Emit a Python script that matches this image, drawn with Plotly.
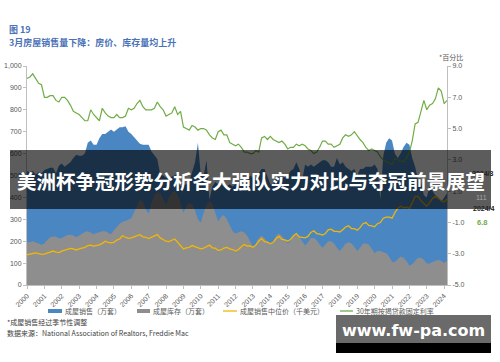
import plotly.graph_objects as go
import pandas as pd

# ---------------- data (bi-monthly: Jan, Mar, May, Jul, Sep, Nov) ----------------
dates = pd.date_range("2000-01-01", "2024-03-01", freq="2MS")

sales = [  # 成屋销售（万套）
    520, 515, 520, 505, 515, 510,
    525, 530, 535, 535, 510, 545,
    555, 540, 550, 560, 580, 595,
    590, 590, 600, 650, 660, 640,
    640, 670, 690, 690, 700, 710,
    700, 710, 720, 720, 725, 700,
    690, 675, 660, 645, 640, 640,
    640, 610, 595, 575, 505, 500,
    490, 490, 495, 500, 510, 450,
    455, 460, 470, 520, 560, 650,
    500, 500, 570, 390, 450, 470,
    460, 460, 450, 450, 460, 450,
    460, 460, 460, 450, 470, 500,
    490, 490, 510, 530, 530, 490,
    460, 460, 490, 510, 510, 490,
    500, 520, 530, 560, 530, 480,
    550, 540, 550, 540, 550, 560,
    570, 570, 560, 540, 540, 580,
    550, 560, 540, 530, 520, 530,
    500, 530, 530, 540, 540, 540,
    550, 530, 390, 590, 650, 670,
    660, 600, 580, 600, 630, 650,
    640, 580, 540, 480, 470, 410,
    400, 450, 430, 410, 400, 380,
    400, 419,
]

inventory = [  # 成屋库存（万套）
    197, 195, 200, 196, 190, 184,
    190, 205, 218, 222, 220, 212,
    215, 222, 228, 230, 226, 218,
    225, 235, 242, 245, 240, 232,
    238, 242, 246, 245, 240, 232,
    250, 265, 280, 288, 292, 298,
    305, 335, 365, 390, 380, 345,
    325, 375, 410, 425, 420, 390,
    365, 400, 420, 430, 410, 375,
    330, 360, 375, 370, 340, 300,
    285, 330, 365, 385, 370, 330,
    290, 310, 320, 300, 270, 245,
    235, 240, 245, 240, 225, 200,
    175, 190, 215, 225, 215, 195,
    185, 200, 225, 235, 225, 205,
    190, 200, 225, 230, 220, 200,
    180, 195, 215, 215, 205, 185,
    170, 185, 200, 200, 190, 170,
    155, 170, 190, 195, 190, 175,
    155, 170, 190, 190, 185, 165,
    145, 155, 155, 150, 145, 130,
    105, 105, 120, 130, 125, 110,
    88, 95, 110, 125, 125, 115,
    98, 98, 105, 110, 115, 110,
    101, 111,
]

price = [  # 成屋销售中位价（千美元）
    138, 140, 145, 147, 143, 140,
    141, 145, 150, 155, 150, 148,
    155, 158, 162, 167, 165, 160,
    165, 168, 172, 180, 182, 178,
    180, 183, 190, 200, 195, 192,
    195, 205, 210, 225, 218, 213,
    215, 220, 225, 230, 220, 218,
    212, 218, 225, 230, 215, 208,
    200, 198, 205, 210, 195, 180,
    165, 170, 172, 180, 175, 170,
    165, 168, 175, 182, 170, 168,
    158, 160, 168, 172, 165, 162,
    155, 162, 175, 185, 178, 178,
    172, 182, 200, 212, 198, 196,
    188, 195, 212, 222, 208, 206,
    200, 208, 225, 235, 220, 218,
    215, 222, 240, 248, 235, 232,
    228, 235, 252, 255, 245, 245,
    242, 252, 265, 270, 258, 257,
    250, 262, 280, 285, 272, 270,
    266, 280, 285, 305, 310, 310,
    305, 330, 350, 360, 352, 355,
    350, 375, 405, 405, 385, 372,
    360, 375, 395, 405, 395, 385,
    380, 393,
]

rate = [  # 30年期按揭贷款固定利率（%）
    8.2, 8.3, 8.5, 8.2, 7.9, 7.8,
    7.0, 7.0, 7.1, 7.1, 6.8, 6.7,
    7.0, 7.0, 6.8, 6.5, 6.1, 6.0,
    5.9, 5.7, 5.5, 5.5, 6.2, 5.9,
    5.7, 5.5, 6.3, 6.0, 5.8, 5.7,
    5.7, 5.9, 5.7, 5.7, 5.8, 6.3,
    6.2, 6.3, 6.6, 6.8, 6.4, 6.2,
    6.2, 6.2, 6.3, 6.7, 6.4, 6.2,
    5.8, 5.9, 6.0, 6.4, 5.9, 6.1,
    5.1, 5.0, 4.9, 5.2, 5.1, 4.9,
    5.0, 5.0, 4.9, 4.6, 4.4, 4.3,
    4.8, 4.9, 4.6, 4.6, 4.1, 4.0,
    3.9, 4.0, 3.8, 3.5, 3.5, 3.4,
    3.4, 3.6, 3.5, 4.4, 4.5, 4.3,
    4.5, 4.3, 4.2, 4.1, 4.2, 4.0,
    3.7, 3.8, 3.8, 4.0, 3.9, 4.0,
    3.9, 3.7, 3.6, 3.4, 3.5, 3.8,
    4.2, 4.2, 4.0, 4.0, 3.8, 3.9,
    4.0, 4.4, 4.6, 4.5, 4.6, 4.8,
    4.5, 4.3, 4.1, 3.8, 3.6, 3.7,
    3.6, 3.5, 3.2, 3.0, 2.9, 2.8,
    2.7, 3.1, 3.0, 2.9, 2.9, 3.1,
    3.5, 4.2, 5.3, 5.4, 6.1, 6.8,
    6.2, 6.5, 6.6, 6.9, 7.6, 7.4,
    6.6, 6.8,
]

years = list(range(2000, 2025))
year_labels = [str(y) for y in years]
left_ticks = list(range(0, 1001, 100))
left_labels = [f"{v:,}" for v in left_ticks]
right_ticks = [-5, -3, -1, 1, 3, 5, 7, 9]
right_labels = [f"{v:.1f}" for v in right_ticks]

series_names = ["成屋销售（万套）", "成屋库存（万套）", "成屋销售中位价（千美元）", "30年期按揭贷款固定利率"]
colors = ["#4A86C2", "#8E8E8E", "#F2B705", "#70AD47"]

# ---------------- geometry helpers (pixel -> paper) ----------------
W, H = 500, 362
L, R, T, B = 27, 447, 66, 285


def px(x):
    return (x - L) / (R - L)


def py(y):
    return (B - y) / (B - T)


CJK = "Noto Sans CJK SC"
AX = "#595959"

fig = go.Figure()
fig.add_trace(go.Scatter(x=dates, y=sales, mode="lines", fill="tozeroy",
                         fillcolor=colors[0], line=dict(width=0, color=colors[0]),
                         name=series_names[0], showlegend=False, hoverinfo="skip"))
fig.add_trace(go.Scatter(x=dates, y=inventory, mode="lines", fill="tozeroy",
                         fillcolor=colors[1], line=dict(width=0, color=colors[1]),
                         name=series_names[1], showlegend=False, hoverinfo="skip"))
fig.add_trace(go.Scatter(x=dates, y=price, mode="lines",
                         line=dict(width=1.3, color=colors[2]),
                         name=series_names[2], showlegend=False, hoverinfo="skip"))
fig.add_trace(go.Scatter(x=dates, y=rate, mode="lines", yaxis="y2",
                         line=dict(width=1.2, color=colors[3]),
                         name=series_names[3], showlegend=False, hoverinfo="skip"))

axis_common = dict(showgrid=False, zeroline=False, showline=True, linecolor="#BFBFBF",
                   linewidth=1, ticks="outside", ticklen=3, tickcolor="#BFBFBF",
                   automargin=False)

fig.update_layout(
    template="none",
    width=W, height=H,
    margin=dict(l=L, r=W - R, t=T, b=H - B, pad=0, autoexpand=False),
    paper_bgcolor="white", plot_bgcolor="white",
    font=dict(family=CJK, color=AX),
    showlegend=False,
    xaxis=dict(type="date", range=[dates[0], dates[-1]],
               tickvals=[f"{y}-01-01" for y in years], ticktext=year_labels,
               tickangle=-45, tickfont=dict(size=7, color=AX, family="Liberation Sans"),
               **axis_common),
    yaxis=dict(range=[0, 1000], tickvals=left_ticks, ticktext=left_labels,
               tickfont=dict(size=7, color=AX, family="Liberation Sans"), **axis_common),
    yaxis2=dict(range=[-5, 9], tickvals=right_ticks, ticktext=right_labels,
                overlaying="y", side="right",
                tickfont=dict(size=7, color=AX, family="Liberation Sans"), **axis_common),
)

ann = []
shapes = []


def text(x, y, s, size=7, color=AX, anchor="left", bold=False, family=CJK):
    ann.append(dict(x=px(x), y=py(y), xref="paper", yref="paper", text=f"<b>{s}</b>" if bold else s,
                    showarrow=False, xanchor=anchor, yanchor="middle",
                    font=dict(size=size, color=color, family=family)))


# titles
text(7, 29, "图 19", size=9, color="#4A72B8", bold=True)
text(7, 42, "3月房屋销售量下降：房价、库存量均上升", size=9, color="#4A72B8", bold=True)

# right axis unit + latest values
text(451, 57, "*百分比", size=7, color=AX, anchor="center")
text(470, 173, "2024/3", size=7, color="#222222", bold=True, family="Liberation Sans")
text(482, 197, "111", size=7, color="#A6A6A6", anchor="center", family="Liberation Sans")
text(471, 208, "2024/4", size=7, color="#222222", bold=True, family="Liberation Sans")
text(482, 222, "6.8", size=7.5, color=colors[3], anchor="center", bold=True, family="Liberation Sans")

# legend (manual)
leg_y = 311
shapes.append(dict(type="rect", xref="paper", yref="paper", x0=px(48), x1=px(62),
                   y0=py(leg_y + 2), y1=py(leg_y - 2), fillcolor=colors[0], line=dict(width=0)))
text(63, leg_y, series_names[0], size=7)
shapes.append(dict(type="rect", xref="paper", yref="paper", x0=px(137), x1=px(150),
                   y0=py(leg_y + 2), y1=py(leg_y - 2), fillcolor=colors[1], line=dict(width=0)))
text(151, leg_y, series_names[1], size=7)
shapes.append(dict(type="line", xref="paper", yref="paper", x0=px(223), x1=px(237),
                   y0=py(leg_y), y1=py(leg_y), line=dict(color=colors[2], width=1.3)))
text(238, leg_y, series_names[2], size=7)
shapes.append(dict(type="line", xref="paper", yref="paper", x0=px(340), x1=px(353),
                   y0=py(leg_y), y1=py(leg_y), line=dict(color=colors[3], width=1.3)))
text(354, leg_y, series_names[3], size=7)

# footnotes
text(5, 322, "*成屋销售经过季节性调整", size=7, color="#404040")
text(5, 333, "数据来源：National Association of Realtors, Freddie Mac", size=7, color="#404040")

# overlay banner
shapes.append(dict(type="rect", xref="paper", yref="paper", layer="above",
                   x0=px(10), x1=px(491), y0=py(209), y1=py(150),
                   fillcolor="rgba(0,0,0,0.64)", line=dict(width=0)))
text(251, 180, "美洲杯争冠形势分析各大强队实力对比与夺冠前景展望", size=19.5, color="white",
     anchor="center", bold=True)

# watermark box
shapes.append(dict(type="rect", xref="paper", yref="paper", layer="above",
                   x0=px(336), x1=px(491), y0=py(343), y1=py(315),
                   fillcolor="#6A6A6A", line=dict(width=0)))
shapes.append(dict(type="rect", xref="paper", yref="paper", layer="above",
                   x0=px(336), x1=px(491), y0=py(353), y1=py(343),
                   fillcolor="#000000", line=dict(width=0)))
text(413, 330, "www.fw-pa.com", size=16, color="white", anchor="center", bold=True,
     family="DejaVu Sans")

fig.update_layout(annotations=ann, shapes=shapes)
fig.write_html("out.html",
               config={"displayModeBar": False, "staticPlot": True},
               post_script="document.body.style.margin='0';document.body.style.overflow='hidden';")
